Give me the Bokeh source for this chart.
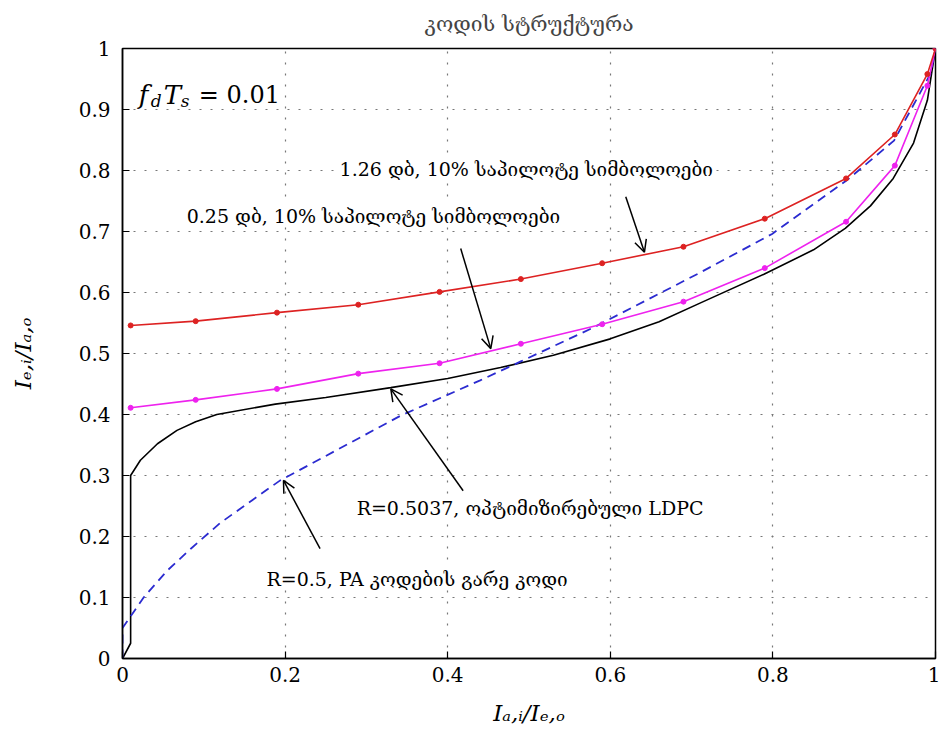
from bokeh.plotting import figure
from bokeh.models import Label, Arrow, OpenHead, Range1d, FixedTicker
from bokeh.embed import file_html
from bokeh.resources import INLINE

# ---- data ----
title_text = "კოდის სტრუქტურა"
x_ticks = [0, 0.2, 0.4, 0.6, 0.8, 1.0]
y_ticks = [0, 0.1, 0.2, 0.3, 0.4, 0.5, 0.6, 0.7, 0.8, 0.9, 1.0]

# 1.26 dB, 10% pilot symbols (red)
red_x = [0.01, 0.09, 0.19, 0.29, 0.39, 0.49, 0.59, 0.69, 0.79, 0.89, 0.95, 0.99, 1.0]
red_y = [0.546, 0.553, 0.567, 0.580, 0.601, 0.622, 0.648, 0.675, 0.721, 0.787, 0.859, 0.958, 1.0]

# 0.25 dB, 10% pilot symbols (magenta)
mag_x = [0.01, 0.09, 0.19, 0.29, 0.39, 0.49, 0.59, 0.69, 0.79, 0.89, 0.95, 0.99, 1.0]
mag_y = [0.411, 0.424, 0.442, 0.467, 0.484, 0.516, 0.548, 0.585, 0.640, 0.716, 0.808, 0.939, 1.0]

# R=0.5037 optimised LDPC (black)
blk_x = [0.0, 0.01, 0.01, 0.022, 0.043, 0.067, 0.09, 0.116, 0.188, 0.25, 0.33, 0.40,
         0.465, 0.53, 0.60, 0.66, 0.711, 0.789, 0.85, 0.889, 0.92, 0.948, 0.973, 0.99, 1.0]
blk_y = [0.0, 0.025, 0.30, 0.325, 0.352, 0.374, 0.388, 0.400, 0.417, 0.428, 0.444, 0.459,
         0.477, 0.497, 0.524, 0.552, 0.583, 0.630, 0.670, 0.705, 0.742, 0.787, 0.845, 0.915, 1.0]

# R=0.5 PA outer code (blue dashed)
blu_x = [0.0, 0.0, 0.012, 0.026, 0.055, 0.084, 0.12, 0.16, 0.194, 0.25, 0.342, 0.44,
         0.49, 0.58, 0.711, 0.799, 0.891, 0.949, 0.994, 1.0]
blu_y = [0.0, 0.05, 0.073, 0.10, 0.144, 0.180, 0.222, 0.260, 0.292, 0.332, 0.398, 0.456,
         0.487, 0.543, 0.633, 0.696, 0.784, 0.849, 0.959, 1.0]

ann_texts = ["1.26 დბ, 10% საპილოტე სიმბოლოები",
             "0.25 დბ, 10% საპილოტე სიმბოლოები",
             "R=0.5037, ოპტიმიზირებული LDPC",
             "R=0.5, PA კოდების გარე კოდი"]

SERIF = "DejaVu Serif"

p = figure(width=940, height=730, x_range=Range1d(0, 1), y_range=Range1d(0, 1),
           output_backend="svg", toolbar_location=None,
           min_border_left=122, min_border_right=5, min_border_top=47, min_border_bottom=72)

p.title.text = title_text
p.title.align = "center"
p.title.vertical_align = "top"
p.title.text_font = SERIF
p.title.text_font_size = "21px"
p.title.text_font_style = "normal"
p.title.standoff = 22

for ax in (p.xaxis[0], p.yaxis[0]):
    ax.major_tick_in = 7
    ax.major_tick_out = 0
    ax.minor_tick_in = 0
    ax.minor_tick_out = 0
    ax.axis_line_color = "black"
    ax.axis_line_width = 1.5
    ax.major_tick_line_color = "black"
    ax.major_tick_line_width = 1.2
    ax.major_label_text_font = SERIF
    ax.major_label_text_font_size = "20px"
    ax.major_label_text_color = "black"
    ax.axis_label_text_font = SERIF
    ax.axis_label_text_font_style = "italic"
    ax.axis_label_text_font_size = "23px"
    ax.axis_label_text_color = "black"

p.xaxis.ticker = FixedTicker(ticks=x_ticks)
p.yaxis.ticker = FixedTicker(ticks=y_ticks)
p.xaxis.major_label_overrides = {0: "0", 1.0: "1"}
p.yaxis.major_label_overrides = {0: "0", 1.0: "1"}
p.xaxis.axis_label = "Iₐ,ᵢ/Iₑ,ₒ"
p.yaxis.axis_label = "Iₑ,ᵢ/Iₐ,ₒ"
p.xaxis.major_label_standoff = 8
p.yaxis.major_label_standoff = 12
p.xaxis.axis_label_standoff = 15
p.yaxis.axis_label_standoff = 40

p.outline_line_color = "black"
p.outline_line_width = 1.5

for g in (p.xgrid[0], p.ygrid[0]):
    g.grid_line_color = "#777777"
    g.grid_line_dash = "2 9"
    g.grid_line_width = 1.2
p.xgrid.ticker = FixedTicker(ticks=x_ticks[1:-1])
p.ygrid.ticker = FixedTicker(ticks=y_ticks[1:-1])

# curves
p.line(blk_x, blk_y, color="black", line_width=1.6)
p.line(blu_x, blu_y, color="#2b2bd0", line_width=1.8, line_dash="9 6")
p.line(mag_x, mag_y, color="#ee22ee", line_width=1.6)
p.scatter(mag_x, mag_y, color="#ee22ee", size=5)
p.line(red_x, red_y, color="#dd2222", line_width=1.6)
p.scatter(red_x, red_y, color="#dd2222", size=5)

# annotation labels (white boxes hide grid like reference)
ann_pos = [(0.267, 0.803), (0.079, 0.726), (0.288, 0.246), (0.177, 0.131)]
for t, (lx, ly) in zip(ann_texts, ann_pos):
    p.add_layout(Label(x=lx, y=ly, text=t, text_font=SERIF, text_font_size="19px",
                       text_color="black", text_baseline="middle", text_align="left",
                       background_fill_color="white"))

# arrows
arrows = [((0.619, 0.757), (0.642, 0.666)),
          ((0.416, 0.672), (0.453, 0.508)),
          ((0.419, 0.275), (0.33, 0.442)),
          ((0.243, 0.18), (0.198, 0.292))]
for (xs, ys), (xe, ye) in arrows:
    p.add_layout(Arrow(x_start=xs, y_start=ys, x_end=xe, y_end=ye, line_color="black",
                       line_width=1.5,
                       end=OpenHead(size=12, line_color="black", line_width=1.5)))

# f_d T_s = 0.01
fx, fy = 0.02, 0.923
parts = [("f", 0, 0, "26px", "italic"), ("d", 12, -6, "17px", "italic"),
         ("T", 25, 0, "26px", "italic"), ("s", 42, -6, "17px", "italic"),
         ("= 0.01", 60, 0, "24px", "normal")]
for txt, xo, yo, fs, st in parts:
    p.add_layout(Label(x=fx, y=fy, x_offset=xo, y_offset=yo, text=txt, text_font=SERIF,
                       text_font_size=fs, text_font_style=st, text_color="black",
                       text_baseline="alphabetic"))

open("out.html", "w").write(file_html(p, INLINE))
